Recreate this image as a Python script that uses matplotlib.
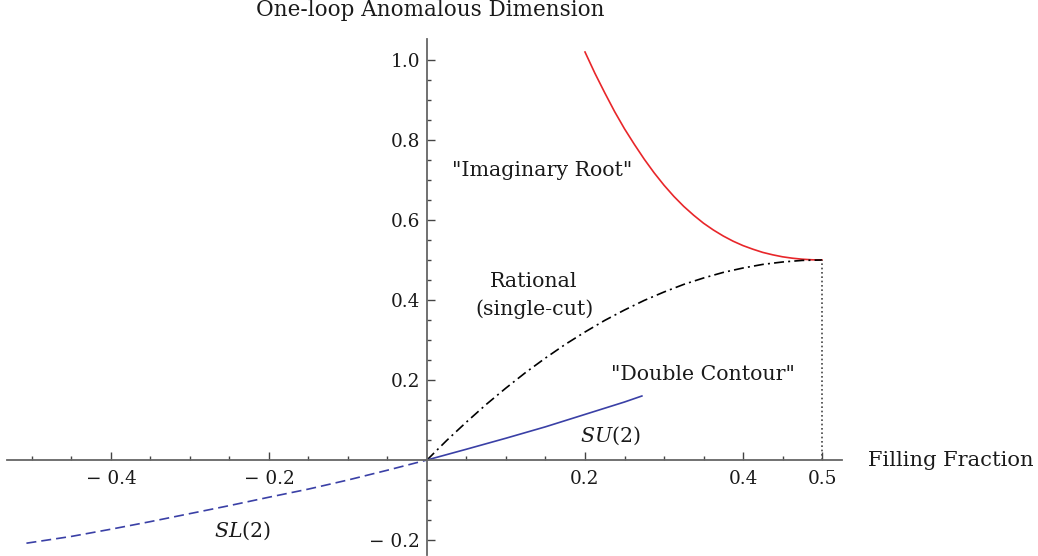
import matplotlib
matplotlib.use("Agg")
import matplotlib.pyplot as plt

plt.rcParams['font.family'] = ['DejaVu Serif']
plt.rcParams['mathtext.fontset'] = 'dejavuserif'

# "Imaginary Root" branch (red)
imag_x = [0.2000, 0.2125, 0.2250, 0.2375, 0.2500, 0.2625, 0.2750, 0.2875, 0.3000,
          0.3125, 0.3250, 0.3375, 0.3500, 0.3625, 0.3750, 0.3875, 0.4000, 0.4125,
          0.4250, 0.4375, 0.4500, 0.4625, 0.4750, 0.4875, 0.5000]
imag_y = [1.020, 0.967, 0.918, 0.871, 0.828, 0.789, 0.752, 0.718, 0.687,
          0.659, 0.634, 0.612, 0.592, 0.575, 0.560, 0.547, 0.536, 0.527,
          0.519, 0.513, 0.508, 0.5045, 0.502, 0.5005, 0.500]

# Rational (single-cut) branch (black dash-dot)
rat_x = [0.0, 0.025, 0.05, 0.075, 0.1, 0.125, 0.15, 0.175, 0.2, 0.225, 0.25, 0.275,
         0.3, 0.325, 0.35, 0.375, 0.4, 0.425, 0.45, 0.475, 0.5]
rat_y = [0.0, 0.049, 0.095, 0.139, 0.180, 0.219, 0.255, 0.289, 0.320, 0.349, 0.375, 0.399,
         0.420, 0.439, 0.455, 0.469, 0.480, 0.489, 0.495, 0.499, 0.500]

# SU(2) "Double Contour" branch (blue solid)
su_x = [0.0, 0.05, 0.1, 0.15, 0.2, 0.25, 0.272]
su_y = [0.0, 0.027, 0.0545, 0.083, 0.114, 0.145, 0.160]

# SL(2) branch (blue dashed)
sl_x = [-0.507, -0.45, -0.4, -0.35, -0.3, -0.25, -0.2, -0.15, -0.1, -0.05, 0.0]
sl_y = [-0.208, -0.191, -0.173, -0.154, -0.134, -0.114, -0.093, -0.0727, -0.050, -0.0255, 0.0]

# dotted marker at half filling
half_x = [0.5, 0.5]
half_y = [0.0, 0.5]

xticks = [-0.4, -0.2, 0.2, 0.4, 0.5]
xticklabels = ['\u2212 0.4', '\u2212 0.2', '0.2', '0.4', '0.5']
yticks = [-0.2, 0.2, 0.4, 0.6, 0.8, 1.0]
yticklabels = ['\u2212 0.2', '0.2', '0.4', '0.6', '0.8', '1.0']

W, H = 1038, 556
fig = plt.figure(figsize=(W / 100, H / 100), dpi=100)
ax = fig.add_axes([7 / W, 1 - 555 / H, (842 - 7) / W, (555 - 39) / H])
ax.set_xlim(-0.5316, 0.5253)
ax.set_ylim(-0.2375, 1.0525)

red = '#e8262a'
blue = '#3a40a6'
ax.plot(imag_x, imag_y, color=red, lw=1.2)
ax.plot(rat_x, rat_y, color='black', lw=1.2, dashes=(6, 2.5, 1.2, 2.5))
ax.plot(su_x, su_y, color=blue, lw=1.2)
ax.plot(sl_x, sl_y, color=blue, lw=1.2, dashes=(6, 3))
ax.plot(half_x, half_y, color='#444444', lw=1.2, dashes=(1.0, 1.6))

for s in ['top', 'right']:
    ax.spines[s].set_visible(False)
for s in ['left', 'bottom']:
    ax.spines[s].set_position(('data', 0))
    ax.spines[s].set_color('#666666')
    ax.spines[s].set_linewidth(1.3)

ax.set_xticks(xticks)
ax.set_xticklabels(xticklabels)
ax.set_yticks(yticks)
ax.set_yticklabels(yticklabels)
ax.set_xticks([-0.5, -0.45, -0.35, -0.3, -0.25, -0.15, -0.1, -0.05, 0.05, 0.1, 0.15,
               0.25, 0.3, 0.35, 0.45], minor=True)
ax.set_yticks([-0.15, -0.1, -0.05, 0.05, 0.1, 0.15, 0.25, 0.3, 0.35, 0.45, 0.5, 0.55,
               0.65, 0.7, 0.75, 0.85, 0.9, 0.95], minor=True)
ax.tick_params(which='both', direction='in', color='#444444', width=1.0,
               labelsize=13.3, labelcolor='#1a1a1a')
ax.tick_params(which='major', length=5.5)
ax.tick_params(which='minor', length=3.2)
ax.tick_params(axis='x', which='major', pad=7)
ax.tick_params(axis='y', which='major', pad=5)

fs = 14.8
tc = '#1a1a1a'
ax.text(0.146, 0.725, '"Imaginary Root"', fontsize=fs, ha='center', va='center', color=tc)
ax.text(0.1356, 0.4325, 'Rational', fontsize=fs, ha='center', va='baseline', color=tc)
ax.text(0.1356, 0.3625, '(single-cut)', fontsize=fs, ha='center', va='baseline', color=tc)
ax.text(0.349, 0.200, '"Double Contour"', fontsize=fs, ha='center', va='baseline', color=tc)
ax.text(0.232, 0.046, r'$SU(2)$', fontsize=fs, ha='center', va='baseline', color=tc)
ax.text(-0.2335, -0.192, r'$SL(2)$', fontsize=fs, ha='center', va='baseline', color=tc)

fig.text(430 / W, 1 - 10 / H, 'One-loop Anomalous Dimension', fontsize=15.5,
         ha='center', va='center', color=tc)
fig.text(868 / W, 1 - 461 / H, 'Filling Fraction', fontsize=15.1,
         ha='left', va='center', color=tc)

fig.savefig('out.png', dpi=100)
